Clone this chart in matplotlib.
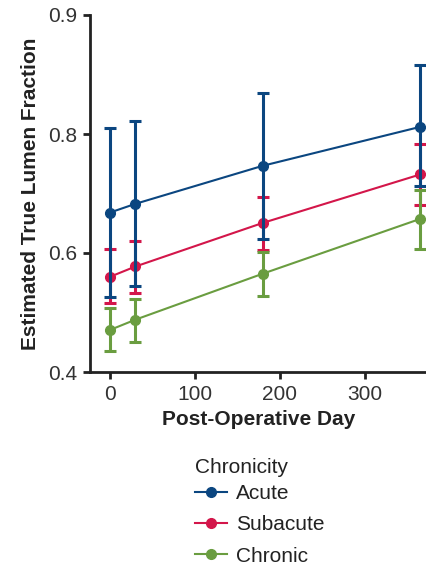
import matplotlib
matplotlib.use("Agg")
import matplotlib.pyplot as plt
from matplotlib.lines import Line2D

plt.rcParams['font.family'] = ['Liberation Sans', 'DejaVu Sans']

days = [0, 30, 180, 365]
groups = ["Acute", "Subacute", "Chronic"]
acute_mean = [0.651, 0.662, 0.710, 0.759]
acute_low = [0.545, 0.559, 0.618, 0.684]
acute_high = [0.758, 0.766, 0.802, 0.837]
subacute_mean = [0.570, 0.583, 0.638, 0.699]
subacute_low = [0.537, 0.549, 0.604, 0.661]
subacute_high = [0.605, 0.615, 0.671, 0.737]
chronic_mean = [0.503, 0.516, 0.574, 0.643]
chronic_low = [0.477, 0.488, 0.546, 0.605]
chronic_high = [0.531, 0.542, 0.601, 0.679]
colors = ["#0b4680", "#d3164a", "#6a9d40"]
ytick_pos = [0.45, 0.6, 0.75, 0.9]
ytick_labels = ["0.4", "0.6", "0.8", "0.9"]
xticks = [0, 100, 200, 300]

series = {
    "Acute": (acute_mean, acute_low, acute_high),
    "Subacute": (subacute_mean, subacute_low, subacute_high),
    "Chronic": (chronic_mean, chronic_low, chronic_high),
}

fig = plt.figure(figsize=(4.27, 5.64), dpi=100)
ax = fig.add_axes([90/427, 1-372/564, (427-90)/427, (372-15)/564])

order = ["Subacute", "Acute", "Chronic"]
zs = {"Subacute": 2, "Acute": 3, "Chronic": 4}
for name in order:
    c = colors[groups.index(name)]
    m, lo, hi = series[name]
    yerr = [[mm - l for mm, l in zip(m, lo)], [h - mm for mm, h in zip(m, hi)]]
    ax.errorbar(days, m, yerr=yerr, fmt='none', ecolor=c, elinewidth=2.2,
                capsize=4.5, capthick=2.2, zorder=zs[name])
    ax.plot(days, m, color=c, lw=1.5, marker='o', ms=7, zorder=zs[name] + 0.5,
            clip_on=False)

ax.set_xlim(-23.5, 373)
ax.set_ylim(0.45, 0.9)
ax.set_yticks(ytick_pos)
ax.set_yticklabels(ytick_labels)
ax.set_xticks(xticks)
ax.set_xticklabels([str(t) for t in xticks])
for s in ["top", "right"]:
    ax.spines[s].set_visible(False)
for s in ["left", "bottom"]:
    ax.spines[s].set_linewidth(2.0)
    ax.spines[s].set_color("#222222")
ax.tick_params(axis='both', length=5, width=2.0, color="#222222",
               labelsize=15, labelcolor="#333333", pad=4)
ax.set_xlabel("Post-Operative Day", fontsize=15, fontweight='bold', color="#222222", labelpad=5)
ax.set_ylabel("Estimated True Lumen Fraction", fontsize=15, fontweight='bold', color="#222222", labelpad=6)

handles = [Line2D([0], [0], color=colors[i], lw=1.5, marker='o', ms=7) for i in range(3)]
leg = fig.legend(handles, groups, title="Chronicity", loc='upper left',
                 bbox_to_anchor=(185/427, 1-448/564), frameon=False,
                 fontsize=15, title_fontsize=15, handlelength=1.5,
                 handletextpad=0.45, labelspacing=0.58, borderpad=0)
leg._legend_box.align = "left"
leg._legend_box.sep = 5
for t in leg.get_texts():
    t.set_color("#222222")
leg.get_title().set_color("#222222")

fig.savefig("out.png", dpi=100)
